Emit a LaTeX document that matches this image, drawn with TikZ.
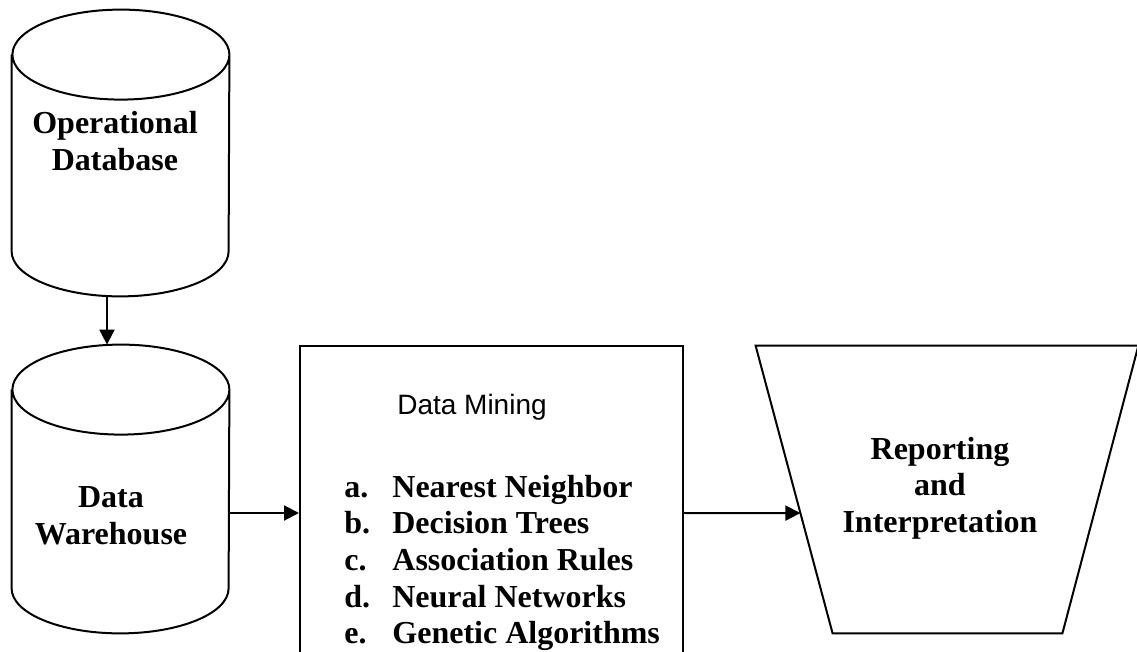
\documentclass[tikz,border=0pt]{standalone}
\usepackage{fontspec}
\setmainfont{Liberation Serif}
\setsansfont{Liberation Sans}
\usetikzlibrary{arrows.meta}

\begin{document}
\begin{tikzpicture}[x=0.5pt,y=-0.5pt,
  dbbody/.style={minimum width=108.5pt,inner sep=0pt},
  dbline/.style={line width=1pt},
  lbl/.style={font=\bfseries\fontsize{16}{18.3}\selectfont,align=center,inner sep=0pt},
  arr/.style={line width=1pt,-{Triangle[length=7.5pt,width=7.5pt]}}]
  \useasboundingbox (0,0) rectangle (1137,652);
  % sources (cylinders)
  \node[dbbody,minimum height=143pt] (opdb) at (120.5,153) {};
  \node[dbbody,minimum height=144pt] (dw) at (120.5,489) {};
  \draw[dbline] ([yshift=-22.5pt]opdb.north west) -- ([yshift=22.5pt]opdb.south west)
    arc[start angle=180,end angle=360,x radius=54.25pt,y radius=22.5pt]
    -- ([yshift=-22.5pt]opdb.north east)
    arc[start angle=0,end angle=360,x radius=54.25pt,y radius=22.5pt];
  \draw[dbline] ([yshift=-22.5pt]dw.north west) -- ([yshift=22.5pt]dw.south west)
    arc[start angle=180,end angle=360,x radius=54.25pt,y radius=22.5pt]
    -- ([yshift=-22.5pt]dw.north east)
    arc[start angle=0,end angle=360,x radius=54.25pt,y radius=22.5pt];
  \node[lbl] (opdbtxt) at (115,141) {Operational\\Database};
  \node[lbl] (dwtxt) at (111,516) {Data\\Warehouse};
  % mining box
  \node[draw,line width=1pt,minimum width=191.5pt,minimum height=167pt,inner sep=0pt] (dm) at (491.5,513) {};
  \node[font=\sffamily\fontsize{14}{16}\selectfont] (dmtitle) at (472,407) {Data Mining};
  \node[lbl,align=left,anchor=west] (dmlist) at (344,563) {\makebox[24pt][l]{a.}Nearest Neighbor\\
    \makebox[24pt][l]{b.}Decision Trees\\
    \makebox[24pt][l]{c.}Association Rules\\
    \makebox[24pt][l]{d.}Neural Networks\\
    \makebox[24pt][l]{e.}Genetic Algorithms};
  % reporting (funnel)
  \node[minimum width=191pt,minimum height=143.5pt,inner sep=0pt] (rep) at (947,489.5) {};
  \draw[dbline] (rep.north west) -- (rep.north east) -- ([xshift=-38pt]rep.south east)
    -- ([xshift=38.5pt]rep.south west) -- cycle;
  \path (rep.north west) -- ([xshift=38.5pt]rep.south west) coordinate[pos=0.582] (repin);
  \node[lbl] (reptxt) at (940,488) {Reporting\\and\\Interpretation};
  % flow
  \draw[arr] ([xshift=-6.75pt]opdb.south) -- ([xshift=-6.75pt]dw.north);
  \draw[arr] (dw.east |- dm.west) -- (dm.west);
  \draw[arr] (dm.east) -- (repin);
\end{tikzpicture}
\end{document}
